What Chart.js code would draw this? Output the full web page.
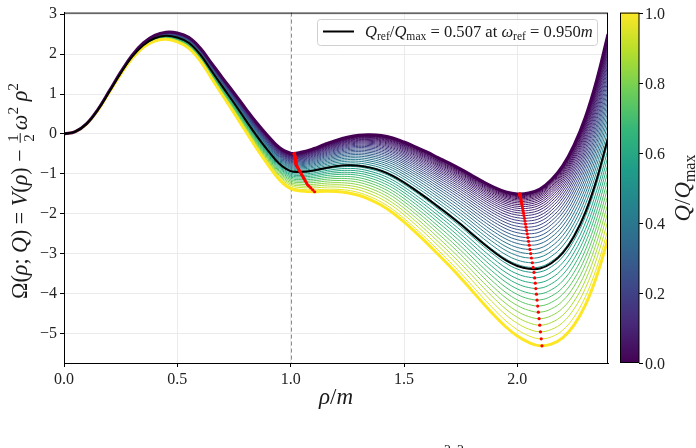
<!DOCTYPE html>
<html>
<head>
<meta charset="utf-8">
<script src="https://cdn.jsdelivr.net/npm/chart.js@4.4.1/dist/chart.umd.min.js"></script>
<style>
html, body { margin: 0; padding: 0; background: #fff; }
#wrap { width: 696px; height: 448px; }
</style>
</head>
<body>
<div id="wrap"><canvas id="omegaChart" width="696" height="448"></canvas></div>
<script>
// rho/m sample points
var rhoVals = [0.00, 0.05, 0.10, 0.15, 0.20, 0.25, 0.30, 0.35, 0.40, 0.45,
               0.50, 0.55, 0.60, 0.65, 0.70, 0.75, 0.80, 0.85, 0.90, 0.95,
               1.00, 1.05, 1.10, 1.15, 1.20, 1.25, 1.30, 1.35, 1.40, 1.45,
               1.50, 1.55, 1.60, 1.65, 1.70, 1.75, 1.80, 1.85, 1.90, 1.95,
               2.00, 2.05, 2.10, 2.15, 2.20, 2.25, 2.30, 2.35, 2.40];
// V(rho): the top (omega = 0) curve
var potV = [0.00, 0.06, 0.26, 0.62, 1.08, 1.55, 1.97, 2.28, 2.47, 2.55,
            2.53, 2.42, 2.16, 1.78, 1.40, 1.03, 0.65, 0.28, -0.05, -0.34,
            -0.48, -0.45, -0.37, -0.26, -0.16, -0.08, -0.03, -0.02, -0.04, -0.10,
            -0.20, -0.32, -0.45, -0.59, -0.73, -0.88, -1.04, -1.20, -1.34, -1.45,
            -1.50, -1.48, -1.38, -1.15, -0.80, -0.28, 0.42, 1.35, 2.50];
// omega/m of each curve of the family (top to bottom)
var omegaVals = [0.000, 0.030, 0.061, 0.091, 0.121, 0.152, 0.182, 0.212, 0.243, 0.273,
                 0.303, 0.334, 0.364, 0.394, 0.424, 0.455, 0.485, 0.515, 0.546, 0.576,
                 0.606, 0.637, 0.667, 0.697, 0.728, 0.758, 0.788, 0.819, 0.849, 0.879,
                 0.910, 0.940, 0.970, 1.001, 1.031, 1.061, 1.091, 1.122, 1.152, 1.182,
                 1.213, 1.243, 1.273, 1.304, 1.334];
var omegaRef = 0.950;
var qRef = 0.507;
var xTicks = [0, 0.5, 1.0, 1.5, 2.0];
var yTicks = [-5, -4, -3, -2, -1, 0, 1, 2, 3];
var cbTicks = [0, 0.2, 0.4, 0.6, 0.8, 1.0];

var viridis = ['#440154', '#482878', '#3e4989', '#31688e', '#26828e', '#1f9e89', '#35b779', '#6ece58', '#b5de2b', '#fde725'];
var SERIF = '"Liberation Serif", "DejaVu Serif", serif';

function hexRgb(h) { return [parseInt(h.substr(1, 2), 16), parseInt(h.substr(3, 2), 16), parseInt(h.substr(5, 2), 16)]; }
function cmap(t) {
    t = Math.max(0, Math.min(1, t));
    var s = t * 9, i = Math.min(8, Math.floor(s)), f = s - i;
    var a = hexRgb(viridis[i]), b = hexRgb(viridis[i + 1]);
    return 'rgb(' + Math.round(a[0] + (b[0] - a[0]) * f) + ',' + Math.round(a[1] + (b[1] - a[1]) * f) + ',' + Math.round(a[2] + (b[2] - a[2]) * f) + ')';
}

// Omega(rho;Q) = V(rho) - 1/2 omega^2 rho^2
function omegaCurve(w) {
    return rhoVals.map(function(r, j) { return { x: r, y: potV[j] - 0.5 * w * w * r * r }; });
}

function localMin(pts, lo, hi) {
    for (var j = lo; j <= hi; j++) {
        var a = pts[j - 1].y, b = pts[j].y, c = pts[j + 1].y;
        if (b < a && b <= c) {
            var d = (a - c) / (2 * (a - 2 * b + c));
            return { x: pts[j].x + d * (pts[j + 1].x - pts[j].x), y: b - 0.25 * (a - c) * d };
        }
    }
    return null;
}

var omegaMax = omegaVals[omegaVals.length - 1];
var datasets = [];
var minsA = [], minsB = [];
omegaVals.forEach(function(w, i) {
    var pts = omegaCurve(w);
    var q = (w / omegaMax) * (w / omegaMax);
    var edge = (i === 0 || i === omegaVals.length - 1);
    datasets.push({
        data: pts, borderColor: cmap(q), borderWidth: edge ? 3 : 1,
        pointRadius: 0, tension: 0.4, fill: false, order: edge ? 5 : 10
    });
    var ma = localMin(pts, 19, 25), mb = localMin(pts, 38, 44);
    if (ma) minsA.push(ma);
    if (mb) minsB.push(mb);
});
datasets.push({ data: omegaCurve(omegaRef), borderColor: '#000', borderWidth: 2, pointRadius: 0,
    tension: 0.4, order: 2 });
datasets.push({ data: minsA.concat(minsB), showLine: false, pointRadius: 1.6, pointBorderWidth: 0,
    pointBackgroundColor: '#ff0000', borderColor: '#ff0000', order: 0 });

// rich text: segments {t, it, k: 'sub'|'sup'|'frac', n, d}
function richText(ctx, segs, x, y, size, draw) {
    var cx = x;
    segs.forEach(function(s) {
        if (s.k === 'frac') {
            var fs = size * 0.68;
            ctx.font = fs + 'px ' + SERIF;
            var wn = ctx.measureText(s.n).width, wd = ctx.measureText(s.d).width;
            var w = Math.max(wn, wd) + size * 0.2;
            if (draw) {
                ctx.fillText(s.n, cx + (w - wn) / 2, y - size * 0.42);
                ctx.fillText(s.d, cx + (w - wd) / 2, y + size * 0.3);
                ctx.fillRect(cx + size * 0.05, y - size * 0.33, w - size * 0.1, Math.max(0.8, size * 0.045));
            }
            cx += w + size * 0.08;
            return;
        }
        var small = (s.k === 'sub' || s.k === 'sup');
        var f = small ? size * 0.7 : size;
        ctx.font = (s.it ? 'italic ' : '') + f + 'px ' + SERIF;
        var dy = s.k === 'sub' ? size * 0.2 : (s.k === 'sup' ? -size * 0.42 : 0);
        if (draw) ctx.fillText(s.t, cx, y + dy);
        cx += ctx.measureText(s.t).width;
    });
    return cx - x;
}
function fitSize(ctx, segs, base, target) {
    var w = richText(ctx, segs, 0, 0, base, false);
    return base * target / w;
}

var legendSegs = [{ t: 'Q', it: true }, { t: 'ref', k: 'sub' }, { t: '/' }, { t: 'Q', it: true }, { t: 'max', k: 'sub' },
    { t: ' = ' + qRef.toFixed(3) + ' at ' }, { t: '\u03c9', it: true }, { t: 'ref', k: 'sub' },
    { t: ' = ' + omegaRef.toFixed(3) }, { t: 'm', it: true }];
var yLabelSegs = [{ t: '\u03a9(' }, { t: '\u03c1', it: true }, { t: '; ' }, { t: 'Q', it: true }, { t: ') = ' },
    { t: 'V', it: true }, { t: '(' }, { t: '\u03c1', it: true }, { t: ') \u2212 ' }, { k: 'frac', n: '1', d: '2' },
    { t: '\u03c9', it: true }, { t: '2', k: 'sup' }, { t: ' \u03c1', it: true }, { t: '2', k: 'sup' }];
var xLabelSegs = [{ t: '\u03c1', it: true }, { t: '/' }, { t: 'm', it: true }];
var cbLabelSegs = [{ t: 'Q', it: true }, { t: '/' }, { t: 'Q', it: true }, { t: 'max', k: 'sub' }];

var decorPlugin = {
    id: 'decor',
    beforeDatasetsDraw: function(chart) {
        var ctx = chart.ctx, a = chart.chartArea, x = chart.scales.x.getPixelForValue(1.0);
        ctx.save();
        ctx.strokeStyle = '#8c8c8c'; ctx.lineWidth = 1; ctx.setLineDash([4, 3]);
        ctx.beginPath(); ctx.moveTo(Math.round(x) + 0.5, a.top); ctx.lineTo(Math.round(x) + 0.5, a.bottom); ctx.stroke();
        ctx.restore();
    },
    afterDraw: function(chart) {
        var ctx = chart.ctx, a = chart.chartArea;
        ctx.save();
        ctx.strokeStyle = '#000'; ctx.lineWidth = 1;
        ctx.strokeRect(a.left + 0.5, a.top + 0.5, a.right - a.left - 1, a.bottom - a.top);

        // legend
        ctx.fillStyle = 'rgba(255,255,255,0.85)'; ctx.strokeStyle = '#d0d0d0';
        ctx.beginPath(); ctx.roundRect(317.5, 19.5, 280, 26, 3); ctx.fill(); ctx.stroke();
        ctx.strokeStyle = '#000'; ctx.lineWidth = 2;
        ctx.beginPath(); ctx.moveTo(323, 31.5); ctx.lineTo(354, 31.5); ctx.stroke();
        ctx.fillStyle = '#1a1a1a'; ctx.textBaseline = 'alphabetic'; ctx.textAlign = 'left';
        richText(ctx, legendSegs, 365, 36.5, fitSize(ctx, legendSegs, 15, 228), true);

        // y label
        var ys = fitSize(ctx, yLabelSegs, 20, 216);
        var yw = richText(ctx, yLabelSegs, 0, 0, ys, false);
        ctx.save(); ctx.translate(27, 191); ctx.rotate(-Math.PI / 2);
        richText(ctx, yLabelSegs, -yw / 2, 0, ys, true);
        ctx.restore();

        // x label
        var xw = richText(ctx, xLabelSegs, 0, 0, 23, false);
        richText(ctx, xLabelSegs, (a.left + a.right) / 2 - xw / 2, 404, 23, true);

        // colorbar
        var cx0 = 620.5, cx1 = 639, top = a.top, bot = a.bottom;
        var g = ctx.createLinearGradient(0, bot, 0, top);
        viridis.forEach(function(c, i) { g.addColorStop(i / 9, c); });
        ctx.fillStyle = g; ctx.fillRect(cx0, top, cx1 - cx0, bot - top);
        ctx.strokeStyle = '#000'; ctx.lineWidth = 1;
        ctx.strokeRect(cx0, top + 0.5, cx1 - cx0, bot - top - 1);
        ctx.fillStyle = '#222'; ctx.font = '16px ' + SERIF; ctx.textBaseline = 'middle';
        cbTicks.forEach(function(t) {
            var y = Math.round(bot - t * (bot - top)) + 0.5;
            ctx.beginPath(); ctx.moveTo(cx1, y); ctx.lineTo(cx1 + 4, y); ctx.stroke();
            ctx.fillText(t.toFixed(1), 645, y + 1);
        });
        ctx.textBaseline = 'alphabetic';
        var cs = fitSize(ctx, cbLabelSegs, 20, 67);
        var cw = richText(ctx, cbLabelSegs, 0, 0, cs, false);
        ctx.save(); ctx.translate(690, 188); ctx.rotate(-Math.PI / 2);
        richText(ctx, cbLabelSegs, -cw / 2, 0, cs, true);
        ctx.restore();

        // clipped caption below the figure (only the superscripts peek in)
        ctx.font = '14px ' + SERIF;
        ctx.fillText('2', 444, 454.5);
        ctx.fillText('2', 457, 454.5);
        ctx.restore();
    }
};

function minusFmt(v) { return v < 0 ? '\u2212' + Math.abs(v) : String(v); }

new Chart(document.getElementById('omegaChart').getContext('2d'), {
    type: 'line',
    data: { datasets: datasets },
    plugins: [decorPlugin],
    options: {
        responsive: false, animation: false, events: [],
        layout: { padding: { top: 12, right: 88, left: 0, bottom: 0 } },
        plugins: { legend: { display: false }, tooltip: { enabled: false } },
        scales: {
            x: {
                type: 'linear', min: 0, max: 2.4,
                afterBuildTicks: function(s) { s.ticks = xTicks.map(function(v) { return { value: v }; }); },
                afterFit: function(s) { s.height = 85; },
                ticks: { callback: function(v) { return v.toFixed(1); }, color: '#222', padding: 3,
                         font: { family: SERIF, size: 16 }, maxRotation: 0 },
                grid: { color: '#ebebeb', tickColor: '#000', tickLength: 4, lineWidth: 1 },
                border: { display: true, color: '#000', width: 1 }
            },
            y: {
                min: -5.735, max: 3.04,
                afterBuildTicks: function(s) { s.ticks = yTicks.map(function(v) { return { value: v }; }); },
                afterFit: function(s) { s.width = 64; },
                ticks: { callback: minusFmt, color: '#222', padding: 3, font: { family: SERIF, size: 16 } },
                grid: { color: '#ebebeb', tickColor: '#000', tickLength: 4, lineWidth: 1 },
                border: { display: true, color: '#000', width: 1 }
            }
        }
    }
});
</script>
</body>
</html>
